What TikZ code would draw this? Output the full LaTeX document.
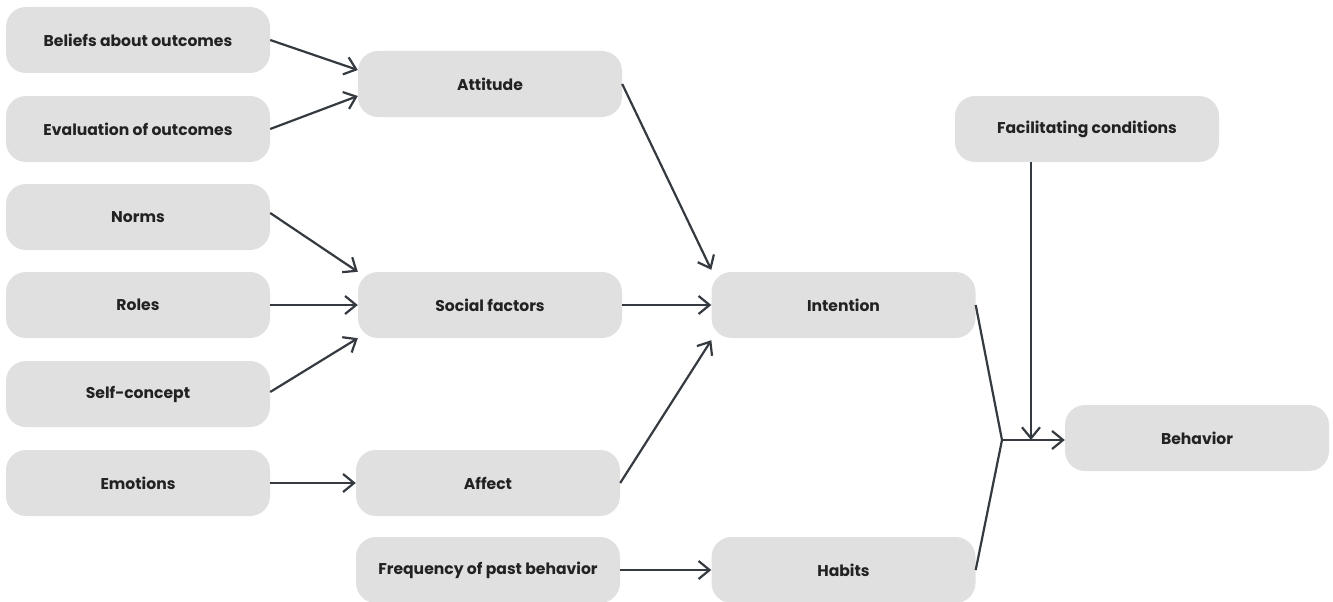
\documentclass[tikz,border=0pt]{standalone}
\usepackage{fontspec}
\setmainfont{Poppins}
\usetikzlibrary{arrows.meta}
\definecolor{boxfill}{HTML}{E0E0E0}
\definecolor{linec}{HTML}{343A40}
\definecolor{textc}{HTML}{222222}
\begin{document}
\begin{tikzpicture}[x=1pt,y=-1pt,
  box/.style={fill=boxfill, rounded corners=20pt, minimum width=264pt, minimum height=66pt,
    inner sep=0pt, text=textc, font=\fontsize{15.6}{18}\selectfont\bfseries},
  link/.style={draw=linec, line width=2.2pt, -{Straight Barb[length=11pt,width=18pt]}},
  plain/.style={draw=linec, line width=2.2pt}]
\useasboundingbox (0,0) rectangle (1333,602);
% input factors
\node[box] (beliefs) at (138,40)  {Beliefs about outcomes};
\node[box] (evalo)   at (138,129) {Evaluation of outcomes};
\node[box] (norms)   at (138,217) {Norms};
\node[box] (roles)   at (138,305) {Roles};
\node[box] (selfc)   at (138,394) {Self-concept};
\node[box] (emot)    at (138,483) {Emotions};
% intermediate constructs
\node[box] (attitude) at (490,84)  {Attitude};
\node[box] (social)   at (490,305) {Social factors};
\node[box] (affect)   at (488,483) {Affect};
\node[box] (freq)     at (488,570) {Frequency of past behavior};
\node[box] (intent)   at (843.5,305) {Intention};
\node[box] (habits)   at (843.5,570) {Habits};
\node[box] (facil)    at (1087,129) {Facilitating conditions};
\node[box] (behav)    at (1197,438) {Behavior};
% arrows into attitude and social factors
\draw[link] (beliefs.east) -- ([yshift=14pt]attitude.west);
\draw[link] (evalo.east) -- ([yshift=-12pt]attitude.west);
\draw[link] ([yshift=4pt]norms.east) -- (social.north west);
\draw[link] (roles.east) -- (social.west);
\draw[link] ([yshift=2pt]selfc.east) -- (social.south west);
\draw[link] (emot.east) -- (affect.west);
% arrows into intention and habits
\draw[link] (attitude.east) -- ([yshift=2pt]intent.north west);
\draw[link] (social.east) -- (intent.west);
\draw[link] (affect.east) -- ([yshift=-2pt]intent.south west);
\draw[link] (freq.east) -- (habits.west);
% junction into behavior
\coordinate (join) at (1002,440);
\draw[plain] (intent.east) -- (join) -- (habits.east);
\draw[link] (join) -- ([yshift=-2pt]behav.west);
\draw[link] ([xshift=-56pt]facil.south) -- ([xshift=-56pt]facil.south |- join);
\end{tikzpicture}
\end{document}
